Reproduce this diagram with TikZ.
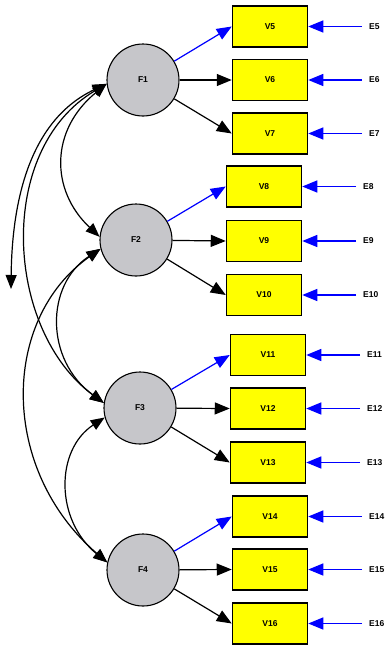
\documentclass[tikz,border=0pt]{standalone}
\usepackage{fontspec}
\setmainfont{Liberation Sans}
\usetikzlibrary{arrows.meta}
\definecolor{latgray}{RGB}{198,198,202}
\definecolor{obsyellow}{RGB}{255,255,0}
\definecolor{pathblue}{RGB}{0,0,255}
\begin{document}
\begin{tikzpicture}[x=1pt,y=-1pt,
  lat/.style={circle,draw=black,fill=latgray,line width=1.1pt,minimum size=72pt,inner sep=0pt,font=\fontsize{8.5}{9}\selectfont\bfseries},
  obs/.style={rectangle,draw=black,fill=obsyellow,line width=1.5pt,minimum width=75pt,minimum height=41pt,inner sep=0pt,font=\fontsize{8.5}{9}\selectfont\bfseries},
  errlab/.style={anchor=west,inner xsep=7pt,inner ysep=0pt,font=\fontsize{8.5}{9}\selectfont\bfseries},
  tip/.style={-{Triangle[length=15pt,width=12pt]}},
  load/.style={tip,line width=1.2pt,draw=black},
  loadfirst/.style={tip,line width=1.2pt,draw=pathblue,fill=pathblue},
  errarrow/.style={tip,line width=1.3pt,draw=pathblue},
  cov/.style={{Triangle[length=14pt,width=11pt]}-{Triangle[length=14pt,width=11pt]},line width=1.2pt}]
\useasboundingbox (0,0) rectangle (389,645);
% latent factors
\node[lat] (F1) at (143,80) {F1};
\node[lat] (F2) at (136,240) {F2};
\node[lat] (F3) at (140,408) {F3};
\node[lat] (F4) at (143,570) {F4};
% observed variables
\node[obs] (V5) at (270,26.5) {V5};
\node[obs] (V6) at (270,80) {V6};
\node[obs] (V7) at (270,133.5) {V7};
\node[obs] (V8) at (264,186.5) {V8};
\node[obs] (V9) at (264,241) {V9};
\node[obs] (V10) at (264,295) {V10};
\node[obs] (V11) at (268,355) {V11};
\node[obs] (V12) at (268,408.5) {V12};
\node[obs] (V13) at (268,462.5) {V13};
\node[obs] (V14) at (270,516.5) {V14};
\node[obs] (V15) at (270,569.5) {V15};
\node[obs] (V16) at (270,623.5) {V16};
% error terms
\node[errlab] (E5) at (362,26.5) {E5};
\node[errlab] (E6) at (362,80) {E6};
\node[errlab] (E7) at (362,133.5) {E7};
\node[errlab] (E8) at (356,186.5) {E8};
\node[errlab] (E9) at (356,241) {E9};
\node[errlab] (E10) at (356,295) {E10};
\node[errlab] (E11) at (360,355) {E11};
\node[errlab] (E12) at (360,408.5) {E12};
\node[errlab] (E13) at (360,462.5) {E13};
\node[errlab] (E14) at (362,516.5) {E14};
\node[errlab] (E15) at (362,569.5) {E15};
\node[errlab] (E16) at (362,623.5) {E16};
% loadings
\draw[loadfirst] (F1) -- (V5.west);
\draw[load] (F1) -- (V6.west);
\draw[load] (F1) -- (V7.west);
\draw[loadfirst] (F2) -- (V8.west);
\draw[load] (F2) -- (V9.west);
\draw[load] (F2) -- (V10.west);
\draw[loadfirst] (F3) -- (V11.west);
\draw[load] (F3) -- (V12.west);
\draw[load] (F3) -- (V13.west);
\draw[loadfirst] (F4) -- (V14.west);
\draw[load] (F4) -- (V15.west);
\draw[load] (F4) -- (V16.west);
% error arrows
\foreach \i in {5,...,16}{
  \draw[errarrow] (E\i.west) -- (V\i.east);
}
% covariances
\coordinate (free) at (11,289);
\draw[cov] (F1.186) .. controls (30,120) and (12,200) .. (free);
\draw[cov] (F1.186) .. controls (50,130) and (50,190) .. (F2.175);
\draw[cov] (F1.186) .. controls (-5,150) and (5,330) .. (F3.172);
\draw[cov] (F2.194) .. controls (45,285) and (45,360) .. (F3.172);
\draw[cov] (F2.194) .. controls (0,320) and (0,470) .. (F4.168);
\draw[cov] (F3.195) .. controls (55,450) and (55,520) .. (F4.168);
\end{tikzpicture}
\end{document}
